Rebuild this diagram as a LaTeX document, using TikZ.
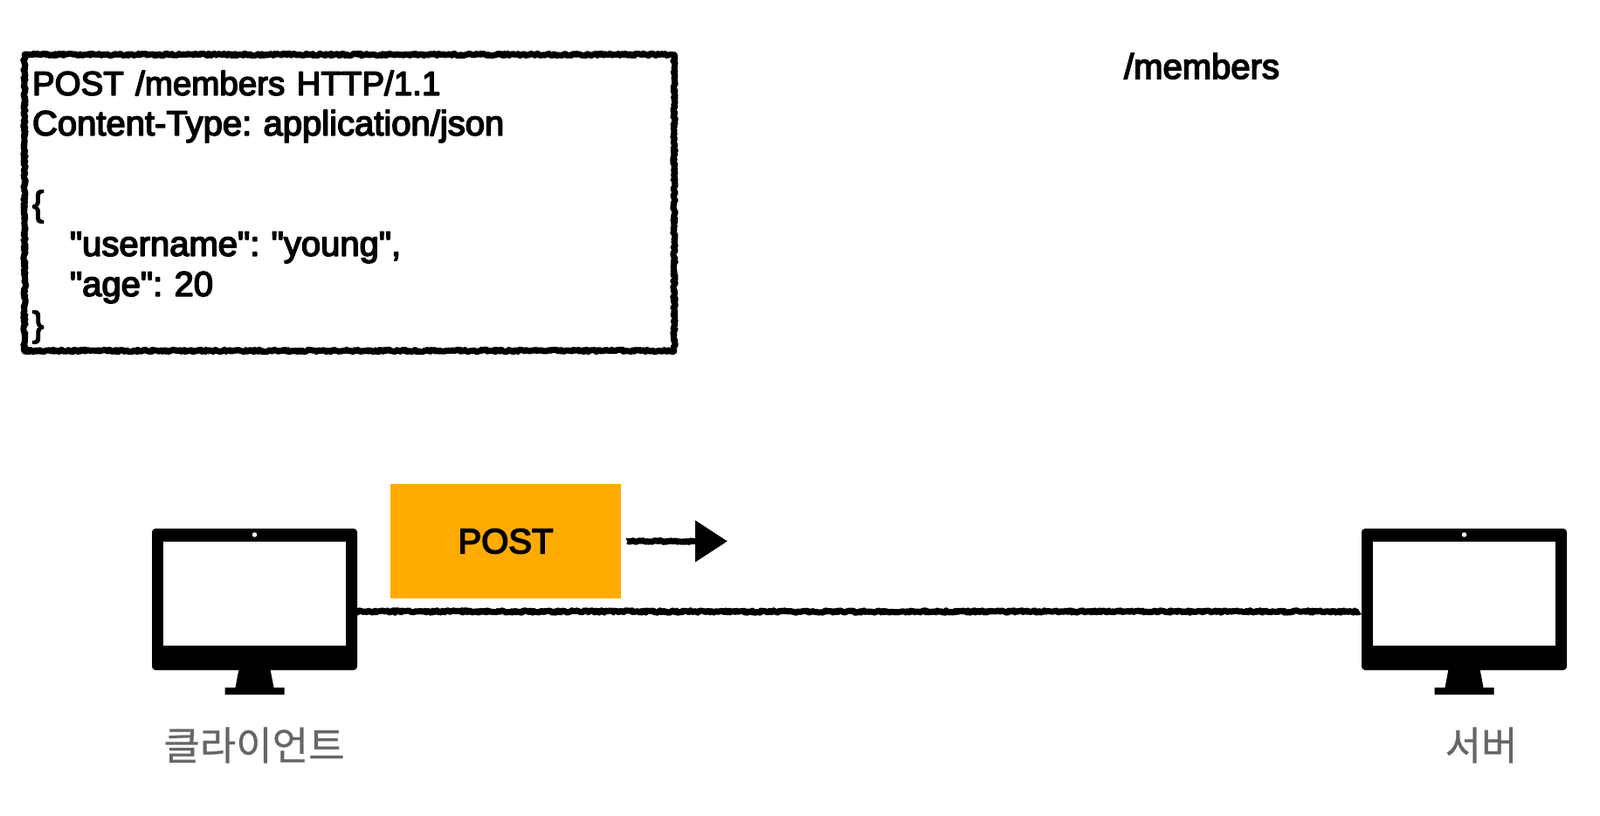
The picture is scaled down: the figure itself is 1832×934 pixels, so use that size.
\documentclass[tikz,border=0pt]{standalone}
\usepackage{fontspec}
\newfontfamily\latin{Liberation Sans}[FakeBold=4]
\newfontfamily\korean{Noto Sans CJK KR}[FakeBold=0.6]
\usetikzlibrary{arrows.meta, decorations.pathmorphing}
\definecolor{postorange}{HTML}{FFAB00}
\definecolor{labelgray}{HTML}{666666}
\tikzset{
  rough/.style={line join=round, decorate, decoration={random steps, segment length=1.5pt, amplitude=1.3pt}},
  monitor/.style={fill=black, rounded corners=4pt, minimum width=235pt, minimum height=162pt, inner sep=0pt},
  screen/.style={fill=white, minimum width=209pt, minimum height=119pt, inner sep=0pt},
  camera/.style={circle, fill=white, minimum size=5.5pt, inner sep=0pt},
  hangul/.style={font=\korean\fontsize{45}{45}\selectfont, text=labelgray}
}

\begin{document}
\begin{tikzpicture}[x=1pt, y=-1pt]
  \useasboundingbox (0,0) rectangle (1832,934);

  % Request message box
  \node[draw=black, line width=7pt, rough, minimum width=743pt, minimum height=339pt,
        text width=726pt, inner xsep=9pt, inner ysep=0pt, align=left,
        font=\latin\frenchspacing\fontsize{40}{46}\selectfont] (request) at (400,232) {
        \rule{0pt}{38pt}{\fontsize{38.5}{46}\selectfont POST /members HTTP/1.1}\\
        Content-Type: application/json\\
        \mbox{}\\
        \{\\
        \hspace*{43pt}"username": "young",\\
        \hspace*{43pt}"age": 20\\
        \}
        };

  % Resource path
  \node[anchor=base, font=\latin\fontsize{40}{40}\selectfont] (path) at (1376,90) {/members};

  % Client and server
  \foreach \name/\posx in {client/291.5, server/1676.5} {
    \node[monitor] (\name) at (\posx,686) {};
    \node[screen] (\name screen) at (\posx,679.5) {};
    \node[camera] (\name camera) at (\posx,612) {};
    \fill (\posx-18,766) -- (\posx+18,766) -- (\posx+22,787) -- (\posx+34,787)
       -- (\posx+34,795) -- (\posx-34,795) -- (\posx-34,787) -- (\posx-22,787) -- cycle;
  }
  \node[hangul] (clientlabel) at (291,853) {클라이언트};
  \node[hangul] (serverlabel) at (1696,853) {서버};

  % Connection between the two
  \draw[line width=7pt, rough] ([yshift=-14pt]client.east) -- ([yshift=-14pt,xshift=-2pt]server.west);

  % POST method box with arrow
  \node[fill=postorange, minimum width=264pt, minimum height=131pt, inner sep=0pt,
        font=\latin\fontsize{40}{40}\selectfont] (post) at (579,619.5) {POST};
  \coordinate (arrowend) at (833,619.5);
  \draw[line width=7pt, line join=round, -{Triangle[length=37pt, width=46pt]},
        decorate, decoration={random steps, segment length=1.5pt, amplitude=1pt, post length=40pt}]
        ([xshift=7pt]post.east) -- (arrowend);
\end{tikzpicture}
\end{document}
